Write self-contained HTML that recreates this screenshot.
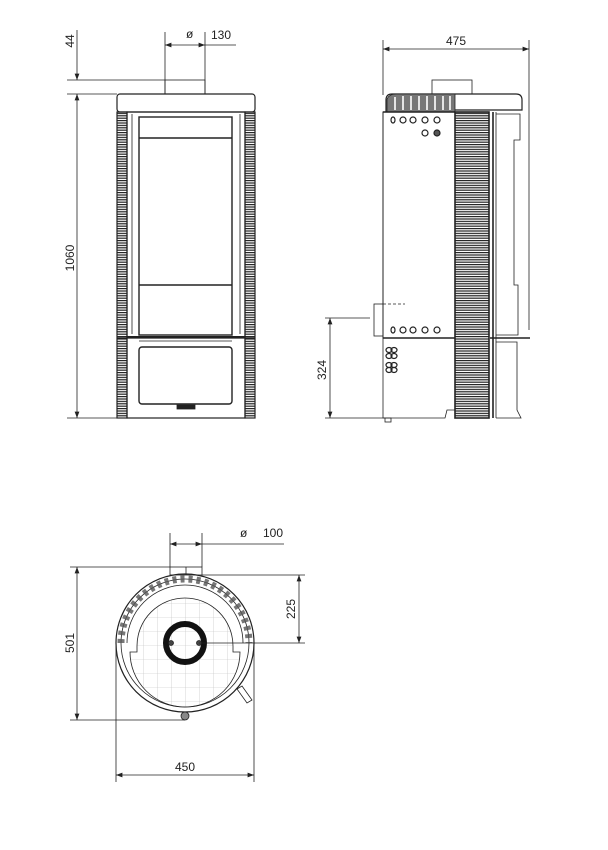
<!DOCTYPE html>
<html><head><meta charset="utf-8"><style>
html,body{margin:0;padding:0;background:#fff;}
svg{display:block;}
text{font-family:"Liberation Sans",sans-serif;font-size:12px;fill:#222;}
</style></head><body>
<svg width="608" height="850" viewBox="0 0 608 850" xmlns="http://www.w3.org/2000/svg">
<defs>
<pattern id="rib" width="4" height="2.4" patternUnits="userSpaceOnUse">
<rect width="4" height="2.4" fill="#fff"/><rect y="0" width="4" height="1.2" fill="#222"/>
</pattern>
<pattern id="grid" width="14" height="14" patternUnits="userSpaceOnUse" x="3" y="1">
<path d="M0 0H14M0 0V14" stroke="#bbb" stroke-width="0.6" fill="none"/>
</pattern>
<marker id="a" markerWidth="8" markerHeight="6" refX="8" refY="3" orient="auto-start-reverse"><path d="M0 0L8 3L0 6z" fill="#222"/></marker>
</defs>
<g stroke="#222" stroke-width="0.8" fill="none">
<!-- FRONT VIEW -->
<line x1="165" y1="32" x2="165" y2="94"/><line x1="205" y1="32" x2="205" y2="94"/>
<line x1="165" y1="45" x2="205" y2="45" marker-start="url(#a)" marker-end="url(#a)"/>
<line x1="205" y1="45" x2="236" y2="45"/>
<line x1="67" y1="80" x2="165" y2="80"/><line x1="67" y1="94" x2="117" y2="94"/>
<line x1="67" y1="418" x2="117" y2="418"/>
<line x1="77" y1="30" x2="77" y2="80" marker-end="url(#a)"/>
<line x1="77" y1="94" x2="77" y2="418" marker-start="url(#a)" marker-end="url(#a)"/>
<rect x="165" y="80" width="40" height="14"/>
<rect x="117" y="94" width="138" height="18" rx="3" stroke-width="1.2"/>
<rect x="117" y="112" width="10" height="306" fill="url(#rib)" stroke-width="1.2"/>
<rect x="245" y="112" width="10" height="306" fill="url(#rib)" stroke-width="1.2"/>
<rect x="127" y="112" width="118" height="306" stroke-width="1.2"/>
<line x1="132" y1="114" x2="132" y2="334"/><line x1="240" y1="114" x2="240" y2="334"/>
<rect x="139" y="117" width="93" height="218" stroke-width="1.4"/>
<line x1="139" y1="138" x2="232" y2="138" stroke-width="1.4"/>
<line x1="139" y1="285" x2="232" y2="285" stroke-width="1.4"/>
<line x1="127" y1="337" x2="245" y2="337" stroke-width="2"/>
<line x1="117" y1="338" x2="255" y2="338" stroke-width="1.2"/>
<rect x="139" y="347" width="93" height="57" rx="3" stroke-width="1.4"/>
<line x1="139" y1="341" x2="232" y2="341"/>
<rect x="177" y="405" width="18" height="4" fill="#222"/>
<!-- SIDE VIEW -->
<line x1="383" y1="40" x2="383" y2="95"/><line x1="529" y1="40" x2="529" y2="330"/>
<line x1="383" y1="49" x2="529" y2="49" marker-start="url(#a)" marker-end="url(#a)"/>
<rect x="432" y="80" width="40" height="14"/>
<path d="M386 112V100Q386 94 392 94H516Q522 94 522 100V110H455" stroke-width="1.2"/>
<path d="M387 112V99Q389 94 396 94H455V112z" fill="#777" stroke="#222"/>
<g stroke="#fff" stroke-width="1.6">
<path d="M395 97V110M403 96V110M411 96V110M419 96V110M427 96V110M435 96V110M443 96V110M450 96V110"/>
</g>
<line x1="383" y1="112" x2="455" y2="112" stroke-width="1.6"/>
<rect x="383" y="112" width="72" height="226" stroke-width="1"/>
<rect x="455" y="112" width="34" height="306" fill="url(#rib)" stroke-width="1.6"/>
<line x1="493" y1="112" x2="493" y2="418" stroke-width="1.6"/>
<line x1="496" y1="112" x2="496" y2="418"/>
<path d="M496 114H520V140H514V285H518V335H496" />
<path d="M496 342H517V410L521 418H496"/>
<line x1="490" y1="338" x2="530" y2="338" stroke-width="1.6"/>
<line x1="383" y1="338" x2="455" y2="338" stroke-width="1.6"/>
<path d="M383 338V418H445L447 410H455"/>
<rect x="385" y="418" width="6" height="4"/>
<g stroke-width="1.2">
<ellipse cx="393" cy="120" rx="2" ry="3"/><circle cx="403" cy="120" r="3"/><circle cx="413" cy="120" r="3"/><circle cx="425" cy="120" r="3"/><circle cx="437" cy="120" r="3"/>
<circle cx="425" cy="133" r="3"/><circle cx="437" cy="133" r="3" fill="#555"/>
<ellipse cx="393" cy="330" rx="2" ry="3"/><circle cx="403" cy="330" r="3"/><circle cx="413" cy="330" r="3"/><circle cx="425" cy="330" r="3"/><circle cx="437" cy="330" r="3"/>
<ellipse cx="389" cy="350" rx="3" ry="2.5"/><ellipse cx="394" cy="350" rx="3" ry="2.5"/><ellipse cx="389" cy="356" rx="3" ry="2.5"/><ellipse cx="394" cy="356" rx="3" ry="2.5"/>
<ellipse cx="389" cy="365" rx="3" ry="2.5"/><ellipse cx="394" cy="365" rx="3" ry="2.5"/><ellipse cx="389" cy="370" rx="3" ry="2.5"/><ellipse cx="394" cy="370" rx="3" ry="2.5"/>
</g>
<rect x="374" y="304" width="9" height="32"/>
<line x1="383" y1="304" x2="405" y2="304" stroke-dasharray="3 2"/>
<line x1="325" y1="318" x2="370" y2="318"/><line x1="325" y1="418" x2="385" y2="418"/>
<line x1="330" y1="318" x2="330" y2="418" marker-start="url(#a)" marker-end="url(#a)"/>
<!-- TOP VIEW -->
<line x1="170" y1="533" x2="170" y2="567"/><line x1="202" y1="533" x2="202" y2="567"/>
<line x1="170" y1="544" x2="202" y2="544" marker-start="url(#a)" marker-end="url(#a)"/>
<line x1="202" y1="544" x2="284" y2="544"/>
<rect x="170" y="567" width="32" height="8"/>
<line x1="186" y1="567" x2="186" y2="575"/>
<circle cx="185" cy="643" r="69" stroke-width="1.2"/>
<circle cx="185" cy="643" r="64"/>
<path d="M121 643A64 64 0 0 1 249 643" stroke="#555" stroke-width="7" stroke-dasharray="4 4" opacity="0.8"/>
<path d="M127 643A58 58 0 0 1 243 643"/>
<path d="M137 646A48 48 0 0 1 233 646V652H240A55 55 0 0 1 130 652H137z" fill="url(#grid)"/>
<circle cx="185" cy="643" r="19" stroke="#111" stroke-width="6"/>
<circle cx="171" cy="643" r="2.5" fill="#444"/><circle cx="199" cy="643" r="2.5" fill="#444"/>
<line x1="199" y1="643" x2="305" y2="643"/>
<line x1="202" y1="575" x2="305" y2="575"/>
<line x1="299" y1="575" x2="299" y2="643" marker-start="url(#a)" marker-end="url(#a)"/>
<path d="M242 686L252 700L247 703L237 689z"/>
<circle cx="185" cy="716" r="4" fill="#888"/>
<line x1="70" y1="567" x2="170" y2="567"/><line x1="70" y1="720" x2="185" y2="720"/>
<line x1="77" y1="567" x2="77" y2="720" marker-start="url(#a)" marker-end="url(#a)"/>
<line x1="116" y1="643" x2="116" y2="782"/><line x1="254" y1="643" x2="254" y2="782"/>
<line x1="116" y1="775" x2="254" y2="775" marker-start="url(#a)" marker-end="url(#a)"/>
</g>
<text x="186" y="38">ø</text><text x="211" y="39">130</text>
<text x="456" y="45" text-anchor="middle">475</text>
<text x="240" y="537">ø</text><text x="263" y="537">100</text>
<text x="185" y="771" text-anchor="middle">450</text>
<text transform="translate(74,41) rotate(-90)" text-anchor="middle">44</text>
<text transform="translate(74,258) rotate(-90)" text-anchor="middle">1060</text>
<text transform="translate(326,370) rotate(-90)" text-anchor="middle">324</text>
<text transform="translate(74,643) rotate(-90)" text-anchor="middle">501</text>
<text transform="translate(295,609) rotate(-90)" text-anchor="middle">225</text>
</svg>
</body></html>
